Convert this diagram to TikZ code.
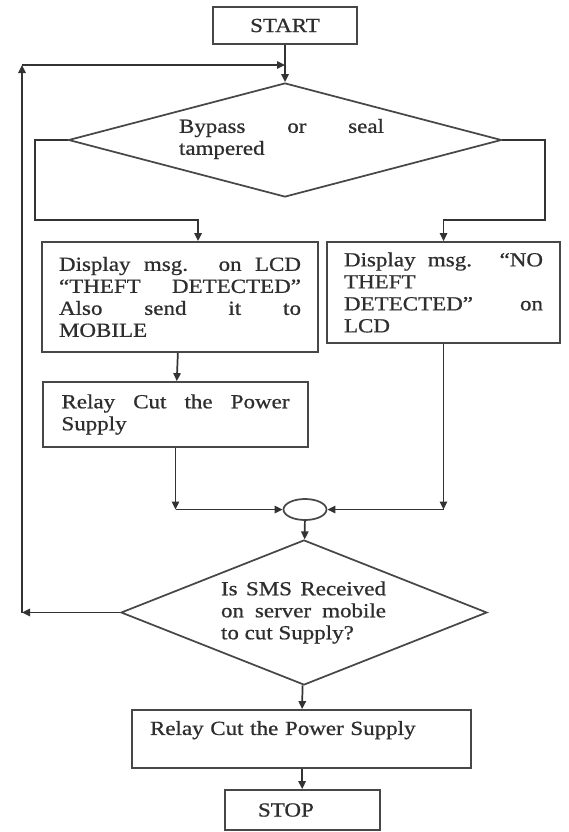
\documentclass[tikz,border=0pt]{standalone}
\usepackage{fontspec}
\setmainfont{Liberation Serif}[FakeStretch=1.15, FakeBold=0.8]
\usetikzlibrary{shapes.geometric, arrows.meta}

\begin{document}
\begin{tikzpicture}[x=0.75pt, y=-0.75pt, line width=1.3pt,
    every node/.style={font=\fontsize{15pt}{16.5pt}\selectfont, text=black!82},
    box/.style={rectangle, draw=black!72, inner sep=0pt},
    dia/.style={diamond, draw=black!72, inner sep=0pt},
    arr/.style={draw=black!80, -{Triangle[length=6pt, width=5.5pt]}}]

    \useasboundingbox (0,0) rectangle (568,832);

    % Blocks of the flow (pixel positions of the screenshot)
    \node[box, minimum width=108pt, minimum height=27.75pt] (start) at (285,25.5) {START};
    \node[dia, minimum width=324.75pt, minimum height=85.5pt] (q1) at (285,140) {};
    \node[text width=153.75pt, align=justify] (q1txt) at (281.5,139) {Bypass or seal\linebreak tampered};

    \node[box, minimum width=207pt, minimum height=82.5pt, text width=181.5pt, align=justify] (theft) at (180,297)
        {Display msg. on LCD\linebreak “THEFT DETECTED”\linebreak Also send it to\linebreak MOBILE};
    \node[box, minimum width=174.75pt, minimum height=75.75pt, text width=149.25pt, align=justify] (notheft) at (443.5,292.5)
        {Display msg. “NO\linebreak THEFT\newline DETECTED” on\linebreak LCD};
    \node[box, minimum width=198.75pt, minimum height=48.75pt, text width=171pt, align=justify] (relayA) at (175.5,414.5)
        {Relay Cut the Power\linebreak Supply};

    \node[ellipse, draw=black!72, minimum width=32.25pt, minimum height=15.75pt, inner sep=0pt] (join) at (305,509.5) {};
    \node[dia, minimum width=274.5pt, minimum height=108.75pt] (q2) at (304,612.5) {};
    \node[text width=123.75pt, align=justify] (q2txt) at (303.5,612.5) {Is SMS Received\linebreak on server mobile\linebreak to cut Supply?};

    \node[box, minimum width=254.25pt, minimum height=43.5pt, text width=227.25pt, align=left] (relayB) at (301.5,739)
        {Relay Cut the Power Supply\\ \mbox{}};
    \node[box, minimum width=116.25pt, minimum height=30pt, text width=66.75pt, align=left] (stop) at (302.5,810) {STOP};

    % Bend points
    \coordinate (yesA) at (35,220);
    \coordinate (yesB) at (198,220);
    \coordinate (noA) at (545,220);
    \coordinate (noB) at (443.5,220);
    \coordinate (joinL) at (relayA.south |- join);
    \coordinate (joinR) at (notheft.south |- join);
    \coordinate (loopA) at (22,612.5);
    \coordinate (loopB) at (22,65);
    \coordinate (entry) at (285,65);

    % Connectors
    \draw[arr] (start) -- (q1);
    \draw[arr] (q1.west) -| (yesA) -- (yesB) -- (yesB |- theft.north);
    \draw[arr] (q1.east) -| (noA) -- (noB) -- (notheft.north);
    \draw[arr] (theft) -- (relayA);
    \draw[arr] (relayA) -- (joinL);
    \draw[arr] (joinL) -- (join);
    \draw[arr] (notheft) -- (joinR);
    \draw[arr] (joinR) -- (join);
    \draw[arr] (join) -- (q2);
    \draw[arr] (q2) -- (relayB);
    \draw[arr] (relayB) -- (stop);

    % Loop back to the top
    \draw[arr] (q2.west) -- (loopA);
    \draw[arr] (loopA) -- (loopB);
    \draw[arr] (loopB) -- (entry);
\end{tikzpicture}
\end{document}
